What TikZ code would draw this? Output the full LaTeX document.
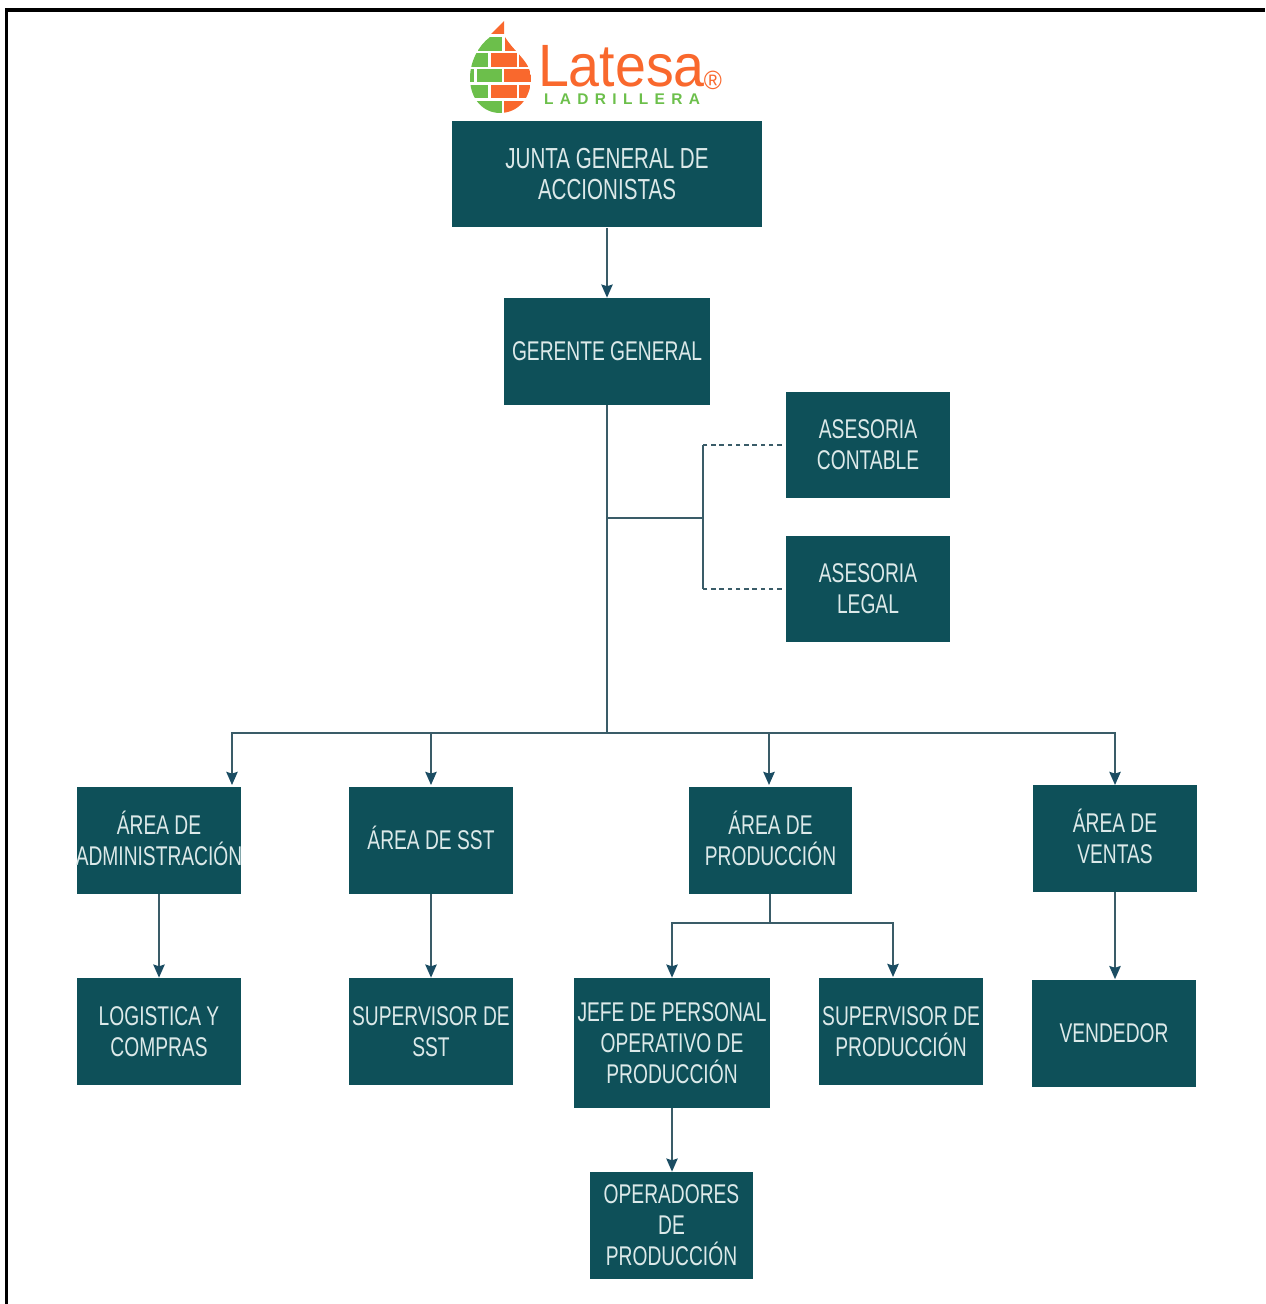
\documentclass[tikz,border=0pt]{standalone}
\usepackage{fontspec}
\setmainfont[FakeStretch=0.71]{Liberation Sans}
\newfontfamily\logofont[FakeStretch=0.93]{Liberation Sans}
\newfontfamily\subfont[LetterSpace=41]{Liberation Sans}
\usepackage{tikz}
\usetikzlibrary{arrows.meta}

\definecolor{boxteal}{HTML}{0E5059}
\definecolor{boxtext}{HTML}{DCE9E9}
\definecolor{linecol}{HTML}{3A5C68}
\definecolor{tipcol}{HTML}{1B4D63}
\definecolor{logoorange}{HTML}{F9682D}
\definecolor{logogreen}{HTML}{6CBF4B}

\newcommand{\Aacc}{\smash{Á}}

\tikzset{
	orgbox/.style={fill=boxteal, text=boxtext, align=center, inner sep=0pt, minimum width=3.28cm, minimum height=2.14cm, font=\fontsize{15.4}{17.6}\selectfont},
	wire/.style={draw=linecol, line width=1pt},
	wirearrow/.style={wire, -{Stealth[length=7.5pt,width=6.5pt,inset=1pt,color=tipcol]}},
	dotwire/.style={wire, dash pattern=on 2.6pt off 2.1pt, shorten <=2.3pt}
}

\begin{document}
\begin{tikzpicture}[x=0.02cm, y=-0.02cm]
	
	\useasboundingbox (0,0) rectangle (1265,1304);
	
	%//outer frame
	\draw [line width=1.9pt] (6.5,1304) -- (6.5,10) -- (1265,10);
	
	%//logo drop with bricks
	\fill [logoorange] (491,34) -- (504,21) -- (504,34) -- cycle;
	\begin{scope}
	\clip (490,37) .. controls (478,46) and (470,62) .. (470,78) .. controls (470,100) and (484,113) .. (500,113) .. controls (518,113) and (531,98) .. (531,78) .. controls (531,62) and (514,52) .. (505,37) -- cycle;
	\foreach \xa/\xb/\ya/\yb in {478/502/37/51, 470/488/53/67, 470/474/69/82, 477/502/69/82, 470/488/85/98, 470/502/101/113}
	\fill [logogreen] (\xa,\ya) rectangle (\xb,\yb);
	\foreach \xa/\xb/\ya/\yb in {505/516/37/51, 491/517/53/67, 519/531/53/67, 504/531/69/82, 491/517/85/98, 519/531/85/98, 504/531/101/113}
	\fill [logoorange] (\xa,\ya) rectangle (\xb,\yb);
	\end{scope}
	
	\node [text=logoorange, font=\logofont\fontsize{34}{34}\selectfont, inner sep=0pt, text height=24pt, text depth=0pt] (latesa) at (621.5,65) {Latesa};
	\node [text=logoorange, font=\logofont\fontsize{15}{15}\selectfont, inner sep=0pt] (regmark) at (713,80) {®};
	\node [text=logogreen, font=\subfont\bfseries\fontsize{8.8}{8.8}\selectfont, inner sep=0pt] (ladrillera) at (622,99) {LADRILLERA};
	
	%//top of the chart
	\node [orgbox, minimum width=6.2cm, font=\fontsize{16.5}{18.1}\selectfont] (junta) at (607,174) {JUNTA GENERAL DE\\ACCIONISTAS};
	\node [orgbox, minimum width=4.14cm] (gerente) at (607,351.5) {GERENTE GENERAL};
	\node [orgbox] (contable) at (868,445) {ASESORIA\\CONTABLE};
	\node [orgbox] (legal) at (868,589) {ASESORIA\\LEGAL};
	
	%//areas
	\node [orgbox] (admin) at (159,840.5) {\Aacc REA DE\\\makebox[3.28cm]{ADMINISTRACIÓN}};
	\node [orgbox] (sst) at (431,840.5) {\Aacc REA DE SST};
	\node [orgbox] (produccion) at (770.5,840.5) {\Aacc REA DE\\PRODUCCIÓN};
	\node [orgbox] (ventas) at (1115,838.5) {\Aacc REA DE\\VENTAS};
	
	%//below the areas
	\node [orgbox] (logistica) at (159,1031.5) {LOGISTICA Y\\COMPRAS};
	\node [orgbox] (supsst) at (431,1031.5) {SUPERVISOR DE\\SST};
	\node [orgbox, minimum width=3.92cm, minimum height=2.6cm] (jefe) at (672,1043) {JEFE DE PERSONAL\\OPERATIVO DE\\PRODUCCIÓN};
	\node [orgbox] (supprod) at (901,1031.5) {SUPERVISOR DE\\PRODUCCIÓN};
	\node [orgbox] (vendedor) at (1114,1033) {VENDEDOR};
	\node [orgbox] (operadores) at (671.5,1225.5) {OPERADORES\\DE\\PRODUCCIÓN};
	
	\coordinate (split) at (607,518);
	\coordinate (side) at (703,518);
	\coordinate (bus) at (607,733);
	\coordinate (prodsplit) at (770,923);
	\coordinate (admintop) at (232,785);
	\coordinate (ssttop) at (431,785);
	\coordinate (prodtop) at (769,785);
	\coordinate (ventastop) at (1115,785);
	\coordinate (supprodtop) at (893,977);
	
	\draw [wirearrow] (junta) -- (gerente);
	\draw [wire] (gerente) -- (bus);
	\draw [wire] (split) -- (side);
	\draw [dotwire] (contable.west) -- ++(-83,0) coordinate (contablecorner);
	\draw [dotwire] (legal.west) -- ++(-83,0) coordinate (legalcorner);
	\draw [wire] (contablecorner) -- (legalcorner);
	
	\foreach \areatop in {admintop, ssttop, prodtop, ventastop}
	\draw [wirearrow] (bus) -| (\areatop);
	
	\draw [wirearrow] (admin) -- (logistica);
	\draw [wirearrow] (sst) -- (supsst);
	\draw [wire] (produccion.south -| prodsplit) -- (prodsplit);
	\draw [wirearrow] (prodsplit) -| (jefe.north);
	\draw [wirearrow] (prodsplit) -| (supprodtop);
	\draw [wirearrow] (ventas) -- (ventas |- vendedor.north);
	\draw [wirearrow] (jefe) -- (jefe |- operadores.north);
	
\end{tikzpicture}
\end{document}
